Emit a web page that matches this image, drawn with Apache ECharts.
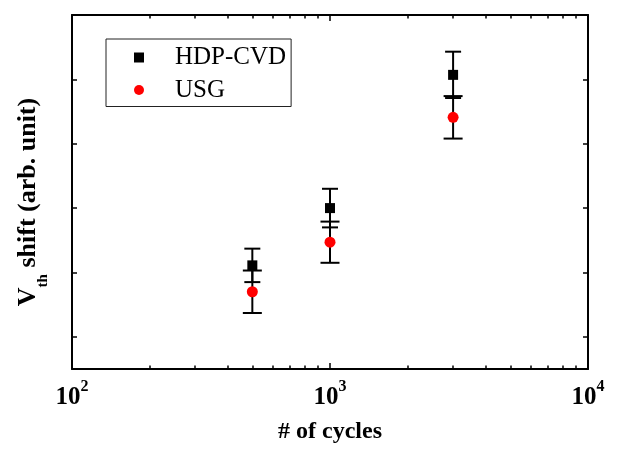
<!DOCTYPE html>
<html>
<head>
<meta charset="utf-8">
<script src="https://cdn.jsdelivr.net/npm/echarts@6/dist/echarts.min.js"></script>
<style>
html,body{margin:0;padding:0;background:#fff;}
#chart{width:618px;height:449px;}
</style>
</head>
<body>
<div id="chart"></div>
<script>
// ---- data ----
const cycles = [500, 1000, 3000];
const hdpValues = [2.11, 3.00, 5.07];
const hdpErrors = [0.26, 0.30, 0.36];
const usgValues = [1.70, 2.47, 4.41];
const usgErrors = [0.33, 0.32, 0.33];
const xMajorTicks = [100, 1000, 10000];
const xMinorTicks = [200, 300, 400, 500, 600, 700, 800, 900, 2000, 3000, 4000, 5000, 6000, 7000, 8000, 9000];
const yTicks = [1, 2, 3, 4, 5];
const seriesNames = ['HDP-CVD', 'USG'];
const xAxisName = '# of cycles';

const FONT = '"Liberation Serif", "Times New Roman", serif';

function errData(vals, errs) {
  return cycles.map((c, i) => [c, vals[i], errs[i]]);
}
function ptData(vals) {
  return cycles.map((c, i) => [c, vals[i]]);
}
function errRender(capHalf) {
  return function (params, api) {
    const x = api.value(0), y = api.value(1), e = api.value(2);
    const top = api.coord([x, y + e]);
    const bot = api.coord([x, y - e]);
    const st = { stroke: '#000', lineWidth: 2 };
    return {
      type: 'group',
      children: [
        { type: 'line', shape: { x1: top[0], y1: top[1], x2: bot[0], y2: bot[1] }, style: st },
        { type: 'line', shape: { x1: top[0] - capHalf, y1: top[1], x2: top[0] + capHalf, y2: top[1] }, style: st },
        { type: 'line', shape: { x1: bot[0] - capHalf, y1: bot[1], x2: bot[0] + capHalf, y2: bot[1] }, style: st }
      ]
    };
  };
}

const lineStyle = { color: '#000', width: 2 };
function xAx(pos, ticks, len, show, extra) {
  return Object.assign({
    type: 'log', logBase: 10, min: 100, max: 10000, position: pos,
    axisLine: { show: show, onZero: false, lineStyle: lineStyle },
    axisTick: { show: true, inside: true, length: len, customValues: ticks, lineStyle: { color: '#000', width: 1.5 } },
    axisLabel: { show: false },
    splitLine: { show: false }, minorTick: { show: false }
  }, extra || {});
}
function yAx(pos, extra) {
  return Object.assign({
    type: 'value', min: 0.5, max: 6, position: pos,
    axisLine: { show: true, onZero: false, lineStyle: lineStyle },
    axisTick: { show: true, inside: true, length: 5, customValues: yTicks, lineStyle: { color: '#000', width: 1.5 } },
    axisLabel: { show: false },
    splitLine: { show: false }
  }, extra || {});
}

const chart = echarts.init(document.getElementById('chart'), null, { renderer: 'canvas' });
chart.setOption({
  backgroundColor: '#fff',
  animation: false,
  textStyle: { fontFamily: FONT, color: '#000' },
  grid: { left: 72, right: 30, top: 15, bottom: 73, containLabel: false },
  legend: {
    orient: 'vertical', left: 106, top: 39,
    padding: [6, 5, 4, 28],
    itemGap: 7.5,
    itemWidth: 10, itemHeight: 10,
    borderColor: '#222', borderWidth: 1,
    textStyle: { fontFamily: FONT, fontSize: 25, color: '#000', padding: [0, 0, 0, 26] },
    data: seriesNames
  },
  xAxis: [
    xAx('bottom', xMajorTicks, 6, true, {
      name: xAxisName, nameLocation: 'middle', nameGap: 51,
      nameTextStyle: { fontFamily: FONT, fontSize: 24, fontWeight: 'bold', color: '#000' },
      axisLabel: {
        show: true, margin: 10, customValues: xMajorTicks,
        formatter: function (v) { return '{b|10}{s|' + Math.round(Math.log10(v)) + '}'; },
        rich: {
          b: { fontFamily: FONT, fontSize: 25, fontWeight: 'bold', color: '#000', lineHeight: 25, verticalAlign: 'bottom' },
          s: { fontFamily: FONT, fontSize: 16, fontWeight: 'bold', color: '#000', verticalAlign: 'top', padding: [0, 0, 15, 0] }
        }
      }
    }),
    xAx('bottom', xMinorTicks, 3.5, false),
    xAx('top', xMajorTicks, 6, true),
    xAx('top', xMinorTicks, 3.5, false)
  ],
  yAxis: [
    yAx('left', {
      name: '{m|V}{s|th}{e| shift (arb. unit)}',
      nameLocation: 'middle', nameRotate: 90, nameGap: 21,
      nameTextStyle: {
        rich: {
          m: { fontFamily: FONT, fontSize: 26, fontWeight: 'bold', color: '#000', lineHeight: 26, verticalAlign: 'top' },
          e: { fontFamily: FONT, fontSize: 26, fontWeight: 'bold', color: '#000', lineHeight: 26, verticalAlign: 'top', padding: [0, 20, 0, 0] },
          s: { fontFamily: FONT, fontSize: 15, fontWeight: 'bold', color: '#000', verticalAlign: 'bottom', padding: [21, 0, 0, 0] }
        }
      }
    }),
    yAx('right')
  ],
  series: [
    {
      type: 'custom', name: 'hdpErr', xAxisIndex: 0, yAxisIndex: 0,
      renderItem: errRender(8), data: errData(hdpValues, hdpErrors),
      encode: { x: 0, y: 1 }, z: 1, silent: true
    },
    {
      type: 'custom', name: 'usgErr', xAxisIndex: 0, yAxisIndex: 0,
      renderItem: errRender(9.5), data: errData(usgValues, usgErrors),
      encode: { x: 0, y: 1 }, z: 1, silent: true
    },
    {
      type: 'scatter', name: seriesNames[0], symbol: 'rect', symbolSize: 10,
      itemStyle: { color: '#000', opacity: 1 }, data: ptData(hdpValues), z: 3
    },
    {
      type: 'scatter', name: seriesNames[1], symbol: 'circle', symbolSize: 11,
      itemStyle: { color: '#ff0000', opacity: 1 }, data: ptData(usgValues), z: 3
    }
  ]
});
</script>
</body>
</html>
